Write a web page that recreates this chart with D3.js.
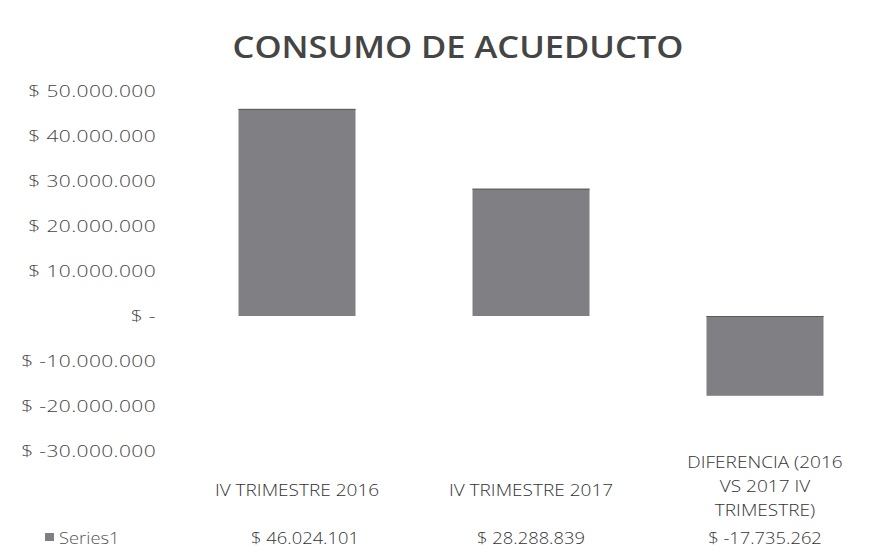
<!DOCTYPE html>
<html>
<head>
<meta charset="utf-8">
<script src="https://cdn.jsdelivr.net/npm/d3@7"></script>
<style>
  body { margin: 0; background: #fff; }
  text { font-family: "Open Sans", Lato, sans-serif; }
</style>
</head>
<body>
<div id="chart"></div>
<script>
// data
var categories = [["IV TRIMESTRE 2016"], ["IV TRIMESTRE 2017"], ["DIFERENCIA (2016", "VS 2017 IV", "TRIMESTRE)"]];
var values = [46024101, 28288839, -17735262];
var valueLabels = ["$ 46.024.101", "$ 28.288.839", "$ -17.735.262"];
var yTicks = [50000000, 40000000, 30000000, 20000000, 10000000, 0, -10000000, -20000000, -30000000];
var seriesName = "Series1";

var width = 894, height = 552;

var svg = d3.select("#chart").append("svg")
    .attr("width", width)
    .attr("height", height);

// scales
var x = d3.scaleBand()
    .domain(d3.range(values.length))
    .range([180, 882])
    .paddingInner(0.5)
    .paddingOuter(0.25);

var y = d3.scaleLinear()
    .domain([-30000000, 50000000])
    .range([451, 91]);

function fmt(v) {
  if (v === 0) return "$ -";
  var s = d3.format(",")(Math.abs(v)).replace(/,/g, ".");
  return "$ " + (v < 0 ? "-" : "") + s;
}

// title (scanned text is a bit wider, so stretch it horizontally)
svg.append("text")
    .attr("transform", "translate(458,58) scale(1.15,1)")
    .attr("text-anchor", "middle")
    .style("font-weight", "600")
    .style("font-size", "30px")
    .style("fill", "#454545")
    .text("CONSUMO DE ACUEDUCTO");

// y axis
var yAxis = svg.append("g")
    .attr("transform", "translate(156,0)")
    .call(d3.axisLeft(y).tickValues(yTicks).tickSize(0).tickPadding(0).tickFormat(fmt));
yAxis.select(".domain").remove();
yAxis.selectAll("text")
    .attr("transform", "scale(1.31,1)")
    .style("font-family", "'Open Sans', sans-serif")
    .style("font-weight", "300")
    .style("font-size", "16px")
    .style("letter-spacing", "0.3px")
    .style("fill", "#444");

// bars
svg.append("g").selectAll("rect")
    .data(values)
  .enter().append("rect")
    .attr("x", function(d, i) { return x(i); })
    .attr("y", function(d) { return y(Math.max(0, d)); })
    .attr("width", x.bandwidth())
    .attr("height", function(d) { return Math.abs(y(d) - y(0)); })
    .style("fill", "#808084");

// bar top edges
svg.append("g").selectAll("line")
    .data(values)
  .enter().append("line")
    .attr("x1", function(d, i) { return x(i); })
    .attr("x2", function(d, i) { return x(i) + x.bandwidth(); })
    .attr("y1", function(d) { return y(Math.max(0, d)) + 0.5; })
    .attr("y2", function(d) { return y(Math.max(0, d)) + 0.5; })
    .style("stroke", "#5a5a5a")
    .style("stroke-width", 1);

// category labels (data table header)
var cat = svg.append("g").selectAll("text")
    .data(categories)
  .enter().append("text")
    .attr("transform", function(d, i) { return "translate(" + (x(i) + x.bandwidth() / 2) + ",0) scale(1.12,1)"; })
    .attr("text-anchor", "middle")
    .style("font-weight", "300")
    .style("font-size", "17px")
    .style("fill", "#333");
cat.each(function(lines, i) {
  var t = d3.select(this);
  var startY = lines.length === 1 ? 496 : 468;
  lines.forEach(function(l, j) {
    t.append("tspan")
      .attr("x", 0)
      .attr("y", startY + j * 24)
      .text(l);
  });
});

// values row
svg.append("g").selectAll("text")
    .data(valueLabels)
  .enter().append("text")
    .attr("transform", function(d, i) { return "translate(" + (x(i) + x.bandwidth() / 2 + (i === 0 ? 8 : 0)) + ",544) scale(1.08,1)"; })
    .attr("text-anchor", "middle")
    .style("font-weight", "300")
    .style("font-size", "17px")
    .style("fill", "#333")
    .text(function(d) { return d; });

// legend key
svg.append("rect")
    .attr("x", 45)
    .attr("y", 533)
    .attr("width", 9)
    .attr("height", 8)
    .style("fill", "#808084");
svg.append("text")
    .attr("transform", "translate(59,544) scale(1.08,1)")
    .style("font-weight", "300")
    .style("font-size", "17px")
    .style("fill", "#555")
    .text(seriesName);
</script>
</body>
</html>
